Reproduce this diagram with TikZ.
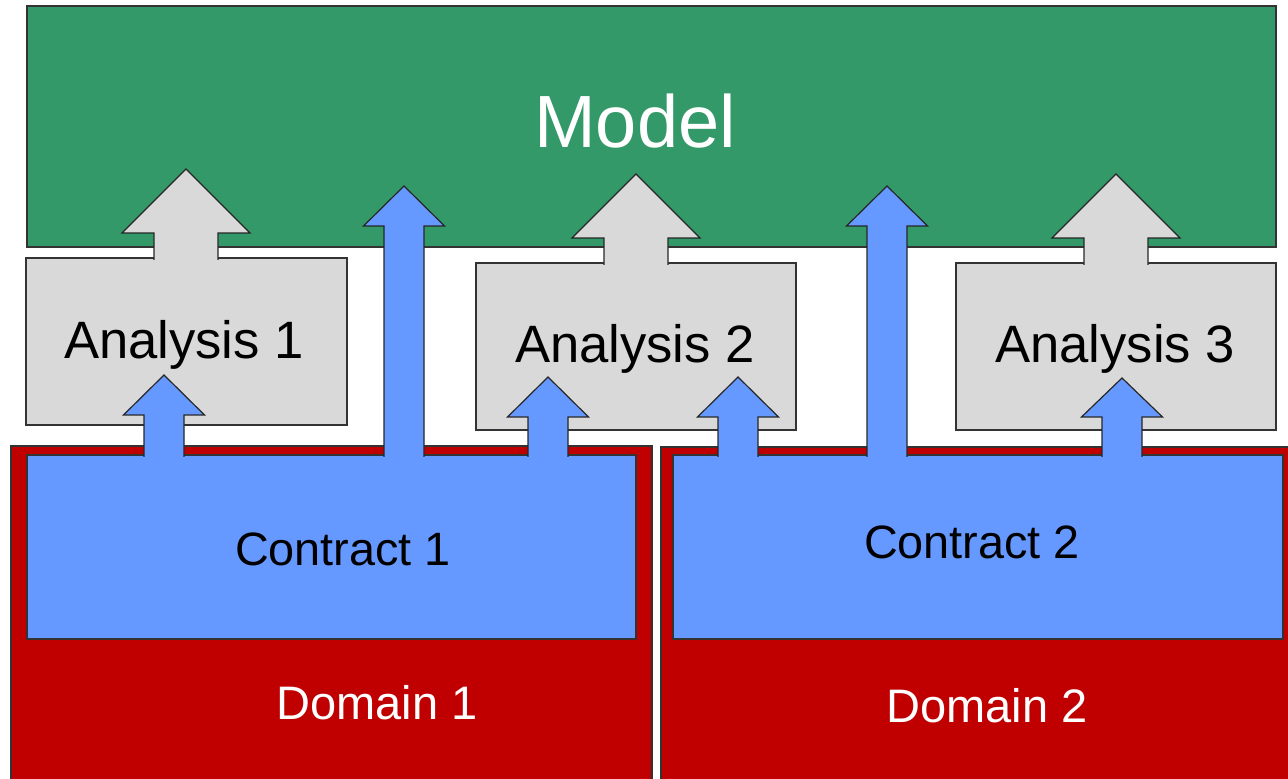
\documentclass[tikz,border=0pt]{standalone}
\usepackage{fontspec}
\setmainfont{Liberation Sans}
\usepackage{xcolor}

\definecolor{modelgreen}{RGB}{52,153,104}
\definecolor{contractblue}{RGB}{102,153,255}
\definecolor{analysisgray}{RGB}{217,217,217}
\definecolor{domainred}{RGB}{192,0,0}

\tikzset{
  box/.style={draw=black!80,line width=0.7pt},
  arrowline/.style={draw=black!85,line width=0.6pt,line join=miter},
  lbl/.style={inner sep=0pt,anchor=base},
}

% block arrow pointing up: #1 fill, #2 x, #3 bottom, #4 head base, #5 tip,
% #6 half shaft width, #7 half head width (bottom edge left open)
\newcommand{\blockup}[7]{%
  \fill[#1] (#2-#6,#3) -- (#2-#6,#4) -- (#2-#7,#4) -- (#2,#5)
    -- (#2+#7,#4) -- (#2+#6,#4) -- (#2+#6,#3) -- cycle;
  \draw[arrowline] (#2-#6,#3) -- (#2-#6,#4) -- (#2-#7,#4) -- (#2,#5)
    -- (#2+#7,#4) -- (#2+#6,#4) -- (#2+#6,#3);}

\begin{document}
\begin{tikzpicture}[x=0.5pt,y=-0.5pt]
    \useasboundingbox (0,0) rectangle (1288,779);
    \clip (0,0) rectangle (1288,779);

    % domains and contracts
    \draw[box,fill=domainred] (11,446) rectangle (652,800);
    \draw[box,fill=domainred] (661,447) rectangle (1300,800);
    \draw[box,fill=contractblue] (27,455) rectangle (636,639);
    \draw[box,fill=contractblue] (673,455) rectangle (1283,639);

    % model
    \draw[box,fill=modelgreen] (27,6) rectangle (1276,247);

    % analyses
    \draw[box,fill=analysisgray] (26,258) rectangle (347,425);
    \draw[box,fill=analysisgray] (476,263) rectangle (796,430);
    \draw[box,fill=analysisgray] (956,263) rectangle (1276,430);

    % analyses feed the model
    \blockup{analysisgray}{186}{260}{233}{169}{32}{64}
    \blockup{analysisgray}{636}{265}{238}{174}{32}{64}
    \blockup{analysisgray}{1116}{265}{238}{174}{32}{64}

    % contracts feed the model directly
    \blockup{contractblue}{404}{457}{226}{186}{20}{40.5}
    \blockup{contractblue}{887}{457}{226}{186}{20}{40.5}

    % contracts feed the analyses
    \blockup{contractblue}{164}{457}{415}{375}{20}{40.5}
    \blockup{contractblue}{548}{457}{417}{377}{20}{40.5}
    \blockup{contractblue}{738}{457}{417}{377}{20}{40.5}
    \blockup{contractblue}{1122}{457}{417}{378}{20}{40.5}

    % labels
    \node[lbl,white,font=\fontsize{37}{44}\selectfont] (model) at (635,148) {Model};
    \node[lbl,font=\fontsize{26.3}{31}\selectfont] (ana1) at (184,359) {Analysis 1};
    \node[lbl,font=\fontsize{26.3}{31}\selectfont] (ana2) at (635,363) {Analysis 2};
    \node[lbl,font=\fontsize{26.3}{31}\selectfont] (ana3) at (1115,363) {Analysis 3};
    \node[lbl,font=\fontsize{23.4}{28}\selectfont] (con1) at (343,565) {Contract 1};
    \node[lbl,font=\fontsize{23.4}{28}\selectfont] (con2) at (972,558) {Contract 2};
    \node[lbl,white,font=\fontsize{23.5}{28}\selectfont] (dom1) at (377,719) {Domain 1};
    \node[lbl,white,font=\fontsize{23.5}{28}\selectfont] (dom2) at (987,722) {Domain 2};
\end{tikzpicture}
\end{document}
